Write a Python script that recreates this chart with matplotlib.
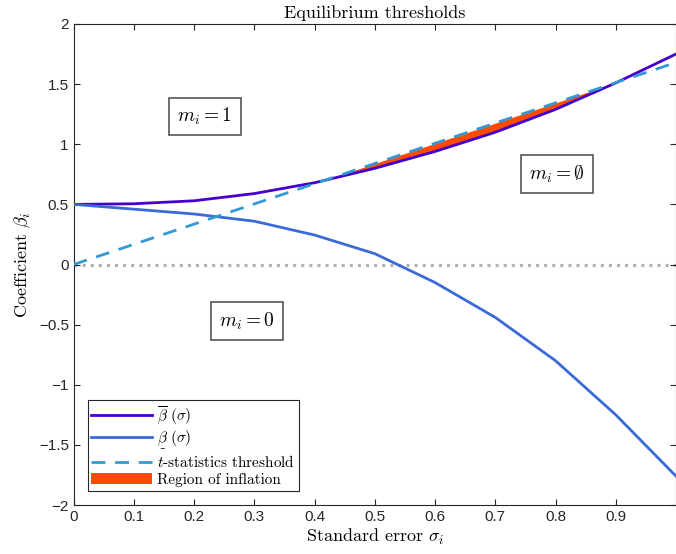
import matplotlib
matplotlib.use('Agg')
import matplotlib.pyplot as plt
import numpy as np

# Data
sigma = [0.0, 0.1, 0.2, 0.3, 0.4, 0.5, 0.6, 0.7, 0.8, 0.9, 1.0]
beta_upper = [0.50, 0.505, 0.53, 0.59, 0.68, 0.80, 0.94, 1.10, 1.29, 1.51, 1.75]
beta_lower = [0.50, 0.46, 0.42, 0.36, 0.245, 0.09, -0.15, -0.44, -0.80, -1.25, -1.76]
t_threshold = [0.0, 0.168, 0.336, 0.504, 0.672, 0.84, 1.008, 1.176, 1.344, 1.512, 1.68]

region_labels = [r'$m_i = 1\ \,$', r'$m_i = \emptyset\ \,$', r'$m_i = 0\ \,$']
region_pos = [(0.218, 1.23), (0.803, 0.75), (0.288, -0.47)]

plt.rcParams['mathtext.fontset'] = 'cm'
plt.rcParams['font.family'] = 'Liberation Sans'
serif = 'cmr10'
axis_col = '#262626'

fig = plt.figure(figsize=(6.76, 5.54), dpi=100)
ax = fig.add_axes([0.109, 0.0884, 0.891, 0.8683])

ax.axhline(0, color='#b0b0b0', linestyle=':', linewidth=2.2, zorder=1)

s = np.array(sigma)
up = np.array(beta_upper)
tt = np.array(t_threshold)
# fine grid for the fill between the t-line and the upper curve
sf = np.linspace(0, 1, 400)
upf = np.interp(sf, s, up)
ttf = np.interp(sf, s, tt)

ax.plot(sigma, beta_upper, color='#4400cc', linewidth=2, label=r'$\overline{\beta}\ (\sigma)$', zorder=3)
ax.plot(sigma, beta_lower, color='#3a6ad8', linewidth=2, label=r'$\underset{\_}{\beta}\ (\sigma)$', zorder=3)
ax.plot(sigma, t_threshold, color='#3399d4', linewidth=2, linestyle=(0, (5, 3.5)),
        label=r'$t$-statistics threshold', zorder=4)
ax.fill_between(sf, upf, ttf, where=ttf > upf, color='#ff4a00', linewidth=0,
                label='Region of inflation', zorder=2)

for lab, (x, y) in zip(region_labels, region_pos):
    ax.text(x, y, lab, fontsize=14, ha='center', va='center',
            bbox=dict(boxstyle='square,pad=0.42', facecolor='white', edgecolor='#555555', linewidth=1.2))

ax.set_xlim(0, 1)
ax.set_ylim(-2, 2)
ax.set_xticks(np.arange(0, 1.0, 0.1))
ax.set_xticklabels(['0', '0.1', '0.2', '0.3', '0.4', '0.5', '0.6', '0.7', '0.8', '0.9'])
ax.set_yticks(np.arange(-2, 2.01, 0.5))
ax.set_yticklabels(['\u22122', '\u22121.5', '\u22121', '\u22120.5', '0', '0.5', '1', '1.5', '2'])
ax.tick_params(direction='in', top=True, right=True, labelsize=11, colors=axis_col, length=4)
for sp in ax.spines.values():
    sp.set_color(axis_col)

ax.set_title('Equilibrium thresholds', fontsize=13, family=serif, pad=4)
ax.set_xlabel(r'Standard error $\sigma_i$', fontsize=13, family=serif, labelpad=2)
ax.set_ylabel(r'Coefficient $\beta_i$', fontsize=13, family=serif, labelpad=4)

leg = ax.legend(loc='lower left', bbox_to_anchor=(0.023, 0.03), fancybox=False, framealpha=1,
                edgecolor='#262626', prop={'family': serif, 'size': 11}, borderpad=0.25,
                labelspacing=0.15, handlelength=4.0, handletextpad=0.3, borderaxespad=0)
leg.get_frame().set_linewidth(0.8)

fig.savefig('out.png', dpi=100)
